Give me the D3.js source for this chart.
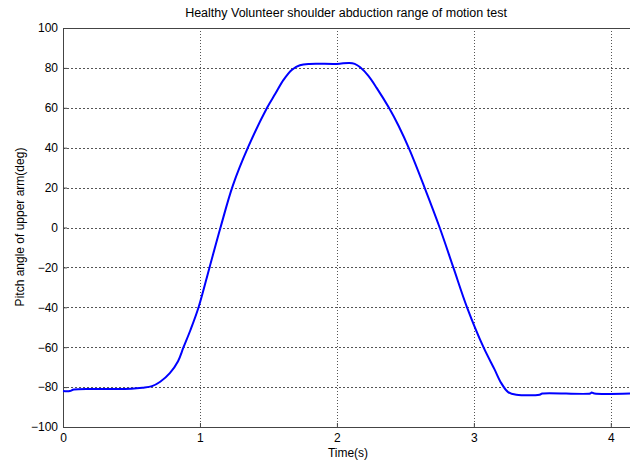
<!DOCTYPE html>
<html><head><meta charset="utf-8">
<script src="https://cdn.jsdelivr.net/npm/d3@7"></script>
<style>body{margin:0;background:#fff}svg{display:block;font-family:"Liberation Sans",Arial,sans-serif}</style>
</head><body>
<svg id="c" width="630" height="461"></svg>
<script>
const title = "Healthy Volunteer shoulder abduction range of motion test";
const xLabel = "Time(s)";
const yLabel = "Pitch angle of upper arm(deg)";
const xTicks = [0, 1, 2, 3, 4];
const yTicks = [-100, -80, -60, -40, -20, 0, 20, 40, 60, 80, 100];
const timeS = [0, 0.05, 0.08, 0.3, 0.5, 0.58, 0.65, 0.71, 0.78, 0.84, 0.88, 0.93, 0.99, 1.07, 1.15, 1.24, 1.35, 1.49, 1.55, 1.61, 1.67, 1.73, 1.8, 2.0, 2.09, 2.13, 2.17, 2.23, 2.29, 2.38, 2.45, 2.53, 2.64, 2.75, 2.85, 2.95, 3.07, 3.15, 3.2, 3.25, 3.31, 3.48, 3.5, 3.85, 3.86, 3.88, 4.14];
const pitchDeg = [-82, -82, -81.2, -81, -80.8, -80.3, -79.5, -77.3, -73, -67, -60, -51.5, -40, -20, 0, 21, 40, 60, 67, 74, 79, 81.3, 82, 82, 82.5, 82, 80.3, 76, 70, 60, 51, 39, 20, 0, -20, -40, -60, -71, -78, -82.5, -83.8, -83.8, -83.2, -83.2, -82.7, -83.2, -83.2];

const svg = d3.select("#c");
const L = 63, T = 28, R = 630, B = 427;
const x = d3.scaleLinear().domain([0, 4.14]).range([L, R]);
const y = d3.scaleLinear().domain([-100, 100]).range([B, T]);
const F = "'Liberation Sans', Arial, sans-serif";

// grid
const g = svg.append("g");
g.selectAll("line.gx").data(xTicks.filter(d => d > 0)).join("line")
  .attr("x1", d => Math.round(x(d)) + 0.5).attr("x2", d => Math.round(x(d)) + 0.5).attr("y1", T).attr("y2", B)
  .attr("stroke", "#555").attr("stroke-width", 1).attr("stroke-dasharray", "1,2");
g.selectAll("line.gy").data(yTicks.filter(d => d > -100 && d < 100)).join("line")
  .attr("x1", L).attr("x2", R).attr("y1", d => Math.round(y(d)) + 0.5).attr("y2", d => Math.round(y(d)) + 0.5)
  .attr("stroke", "#555").attr("stroke-width", 1).attr("stroke-dasharray", "2,2");

// top border
svg.append("line").attr("x1", L).attr("x2", R).attr("y1", T + 0.5).attr("y2", T + 0.5).attr("stroke", "#444");

// axes
const xa = svg.append("g").attr("transform", `translate(0,${B})`)
  .call(d3.axisBottom(x).tickValues(xTicks).tickFormat(d3.format("d")).tickSize(-4).tickPadding(6).tickSizeOuter(0));
const ya = svg.append("g").attr("transform", `translate(${L},0)`)
  .call(d3.axisLeft(y).tickValues(yTicks).tickFormat(d3.format("d")).tickSize(-4).tickPadding(5).tickSizeOuter(0));
[xa, ya].forEach(a => {
  a.select(".domain").attr("stroke", "#444");
  a.selectAll(".tick line").attr("stroke", "#444");
  a.selectAll("text").attr("fill", "#000").style("font-size", "12px").style("font-family", F);
});

// line
const line = d3.line().x((d, i) => x(timeS[i])).y(d => y(d)).curve(d3.curveCatmullRom.alpha(0.5));
svg.append("path").datum(pitchDeg).attr("d", line)
  .attr("fill", "none").attr("stroke", "#0000ff").attr("stroke-width", 2);

// labels
svg.append("text").attr("x", 346).attr("y", 17).attr("text-anchor", "middle")
  .style("font-size", "12.5px").text(title);
svg.append("text").attr("x", 348).attr("y", 457).attr("text-anchor", "middle")
  .style("font-size", "12px").text(xLabel);
svg.append("text").attr("transform", "translate(24,227) rotate(-90)").attr("text-anchor", "middle")
  .style("font-size", "12px").text(yLabel);
</script>
</body></html>
